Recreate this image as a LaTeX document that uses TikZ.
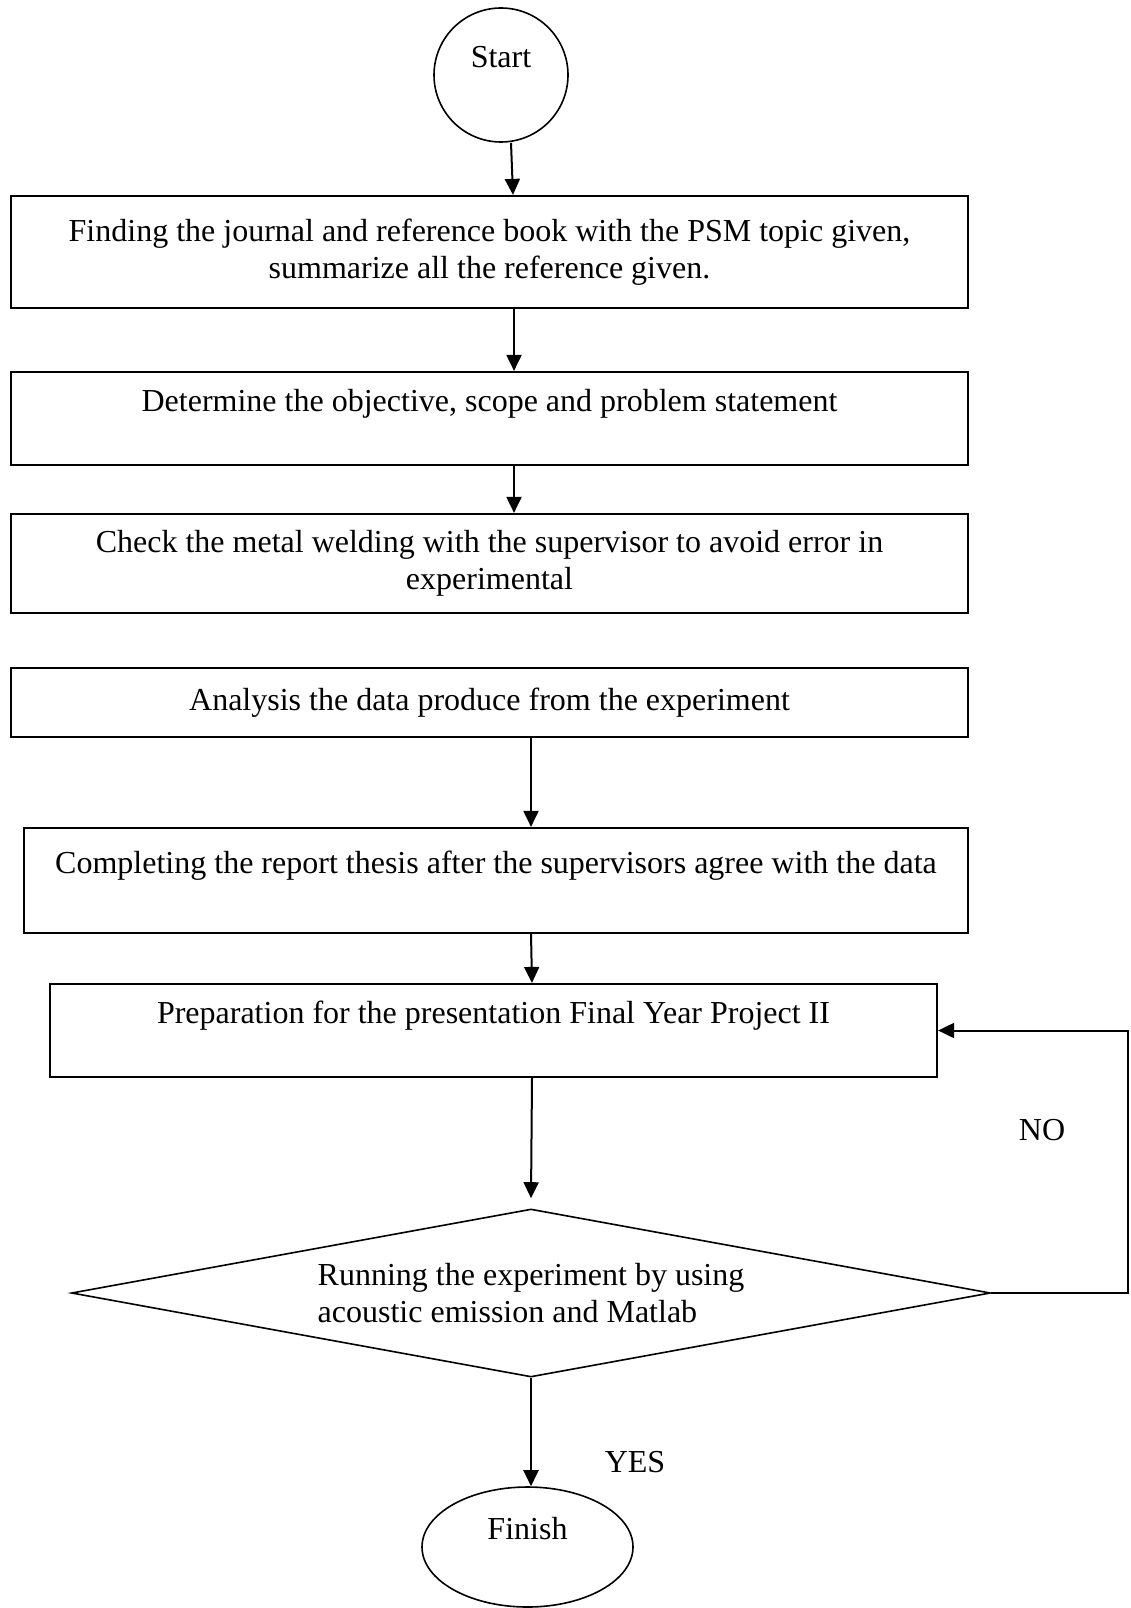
\documentclass[tikz,border=0pt]{standalone}
\usepackage{fontspec}
\setmainfont{Liberation Serif}
\usetikzlibrary{shapes.geometric,arrows.meta}
\tikzset{
  box/.style={draw, rectangle, line width=2.2pt, align=center, inner sep=0pt},
  term/.style={draw, line width=1.6pt, align=center, inner sep=0pt},
  decis/.style={draw, diamond, line width=1.6pt, align=left, inner sep=0pt, aspect=5.47},
  arr/.style={-{Triangle[length=16pt,width=15pt]}, line width=2pt},
  lbl/.style={inner sep=0pt}
}
\begin{document}
\begin{tikzpicture}[x=1pt,y=-1pt,font=\fontsize{32}{37}\selectfont]
\useasboundingbox (0,0) rectangle (1130,1608);
\node[term, circle, minimum size=134pt] (start) at (501,75) {Start\\\mbox{}};
\node[box, minimum width=957pt, minimum height=112pt] (b1) at (489.5,252) {Finding the journal and reference book with the PSM topic given,\\summarize all the reference given.};
\node[box, minimum width=957pt, minimum height=93pt] (b2) at (489.5,418.5) {Determine the objective, scope and problem statement\\\mbox{}};
\node[box, minimum width=957pt, minimum height=99pt] (b3) at (489.5,563.5) {Check the metal welding with the supervisor to avoid error in\\experimental};
\node[box, minimum width=957pt, minimum height=69pt] (b4) at (489.5,702.5) {Analysis the data produce from the experiment};
\node[box, minimum width=944pt, minimum height=105pt] (b5) at (496,880.5) {Completing the report thesis after the supervisors agree with the data\\\mbox{}};
\node[box, minimum width=887pt, minimum height=93pt] (b6) at (493.5,1030.5) {Preparation for the presentation Final Year Project II\\\mbox{}};
\node[decis, minimum width=919pt, minimum height=168pt] (dia) at (531,1293) {Running the experiment by using\\acoustic emission and Matlab};
\node[term, ellipse, minimum width=211pt, minimum height=120pt] (fin) at (527.5,1547) {Finish\\\mbox{}};
\node[lbl] (no) at (1042,1130) {NO};
\node[lbl] (yes) at (635,1462) {YES};
\draw[arr] ([xshift=10pt]start.south) -- ([xshift=23.5pt]b1.north);
\draw[arr] ([xshift=24.5pt]b1.south) -- ([xshift=24.5pt]b2.north);
\draw[arr] ([xshift=24.5pt]b2.south) -- ([xshift=24.5pt]b3.north);
\draw[arr] ([xshift=41.5pt]b4.south) -- ([xshift=35pt]b5.north);
\draw[arr] ([xshift=35pt]b5.south) -- ([xshift=38.5pt]b6.north);
\draw[arr] ([xshift=38.5pt]b6.south) -- ([yshift=10pt]dia.north);
\draw[arr] (dia.south) -- (dia.south |- fin.north);
\draw[arr] (dia.east) -- ++(137,0) |- (b6.east);
\end{tikzpicture}
\end{document}
